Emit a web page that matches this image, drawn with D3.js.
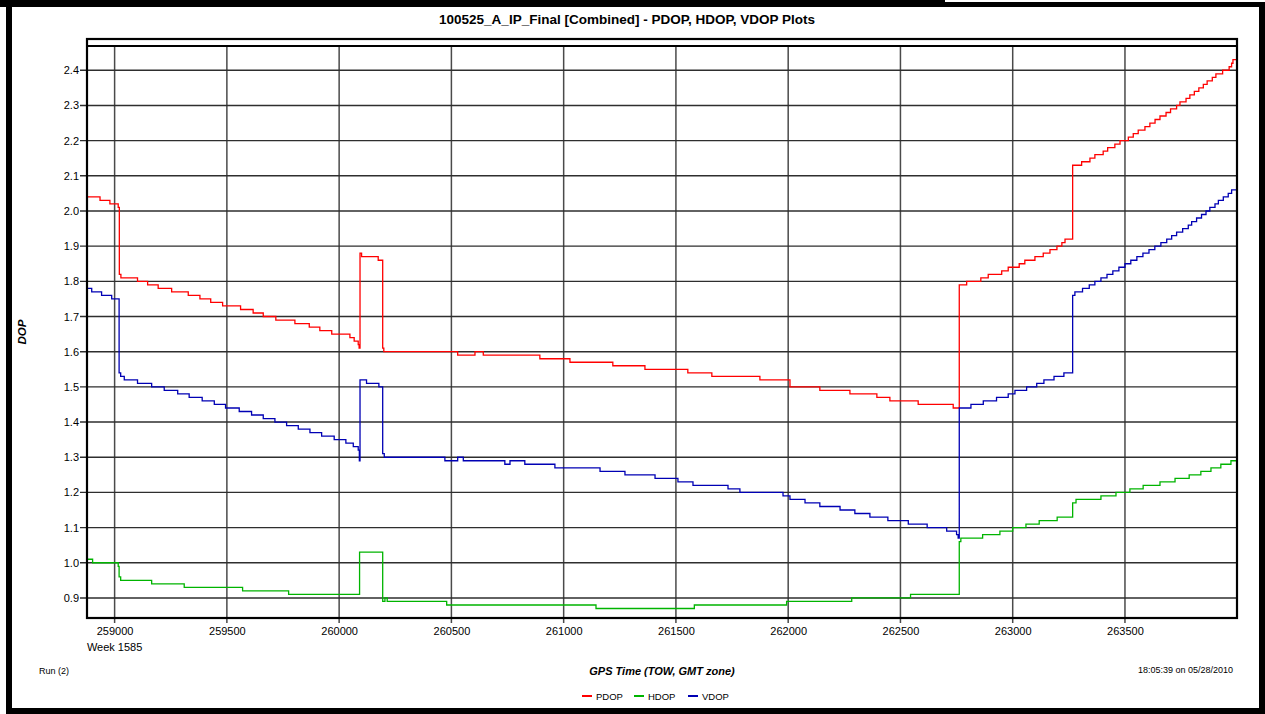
<!DOCTYPE html>
<html>
<head>
<meta charset="utf-8">
<script src="https://cdn.jsdelivr.net/npm/d3@7"></script>
<style>
  body { margin: 0; background: #fff; }
  svg { display: block; font-family: "Liberation Sans", Arial, sans-serif; }
</style>
</head>
<body>
<svg width="1265" height="714"></svg>
<script>
const titleText = "100525_A_IP_Final [Combined] - PDOP, HDOP, VDOP Plots"
const xLabel = "GPS Time (TOW, GMT zone)"
const yLabel = "DOP"
const weekLabel = "Week 1585"
const runLabel = "Run (2)"
const stampLabel = "18:05:39 on 05/28/2010"

const seriesNames = ["PDOP", "HDOP", "VDOP"]
const seriesColors = ["#ff0000", "#00b400", "#0000b4"]

const xTicks = [259000, 259500, 260000, 260500, 261000, 261500, 262000, 262500, 263000, 263500]
const yTicks = [0.9, 1.0, 1.1, 1.2, 1.3, 1.4, 1.5, 1.6, 1.7, 1.8, 1.9, 2.0, 2.1, 2.2, 2.3, 2.4]
const timeRange = [258877, 263999]
const dopRange = [0.843, 2.469]

// [time of week, value] - each value holds until the next time
const pdop = [
  [258877, 2.04], [258935, 2.03], [258979, 2.02], [259016, 2.01], [259021, 1.82], [259028, 1.81],
  [259102, 1.80], [259147, 1.79], [259194, 1.78], [259254, 1.77], [259328, 1.76], [259380, 1.75],
  [259428, 1.74], [259481, 1.73], [259561, 1.72], [259617, 1.71], [259662, 1.70], [259718, 1.69],
  [259803, 1.68], [259867, 1.67], [259914, 1.66], [259967, 1.65], [260048, 1.64], [260067, 1.63],
  [260085, 1.62], [260089, 1.61], [260093, 1.88], [260100, 1.87], [260174, 1.86], [260194, 1.61],
  [260199, 1.60], [260528, 1.59], [260605, 1.60], [260642, 1.59], [260894, 1.58], [261028, 1.57],
  [261219, 1.56], [261362, 1.55], [261553, 1.54], [261660, 1.53], [261874, 1.52], [262008, 1.50],
  [262141, 1.49], [262275, 1.48], [262395, 1.47], [262453, 1.46], [262579, 1.45], [262735, 1.44],
  [262762, 1.79], [262795, 1.80], [262858, 1.81], [262891, 1.82], [262951, 1.83], [262980, 1.84],
  [263029, 1.85], [263054, 1.86], [263099, 1.87], [263136, 1.88], [263166, 1.89], [263197, 1.90],
  [263219, 1.91], [263233, 1.92], [263267, 2.13], [263307, 2.14], [263344, 2.15], [263366, 2.16],
  [263403, 2.17], [263423, 2.18], [263455, 2.19], [263478, 2.20], [263515, 2.21], [263537, 2.22],
  [263559, 2.23], [263589, 2.24], [263611, 2.25], [263634, 2.26], [263656, 2.27], [263683, 2.28],
  [263703, 2.29], [263730, 2.30], [263745, 2.31], [263772, 2.32], [263789, 2.33], [263809, 2.34],
  [263829, 2.35], [263849, 2.36], [263866, 2.37], [263889, 2.38], [263905, 2.39], [263935, 2.40],
  [263964, 2.41], [263975, 2.42], [263981, 2.43], [263999, 2.43]
]

const hdop = [
  [258877, 1.01], [258902, 1.00], [259016, 0.99], [259020, 0.96], [259027, 0.95], [259165, 0.94],
  [259310, 0.93], [259570, 0.92], [259775, 0.91], [260091, 1.03], [260194, 0.89], [260204, 0.90],
  [260214, 0.89], [260479, 0.88], [261144, 0.87], [261582, 0.88], [261993, 0.89], [262283, 0.90],
  [262545, 0.91], [262762, 1.06], [262769, 1.07], [262866, 1.08], [262943, 1.09], [263000, 1.10],
  [263059, 1.11], [263118, 1.12], [263198, 1.13], [263267, 1.17], [263282, 1.18], [263393, 1.19],
  [263460, 1.20], [263522, 1.21], [263581, 1.22], [263656, 1.23], [263723, 1.24], [263786, 1.25],
  [263838, 1.26], [263883, 1.27], [263927, 1.28], [263972, 1.29], [263999, 1.29]
]

const vdop = [
  [258877, 1.78], [258898, 1.77], [258942, 1.76], [258987, 1.75], [259020, 1.54], [259027, 1.53],
  [259043, 1.52], [259102, 1.51], [259165, 1.50], [259221, 1.49], [259281, 1.48], [259332, 1.47],
  [259390, 1.46], [259444, 1.45], [259494, 1.44], [259555, 1.43], [259610, 1.42], [259662, 1.41],
  [259714, 1.40], [259766, 1.39], [259818, 1.38], [259870, 1.37], [259922, 1.36], [259978, 1.35],
  [260030, 1.34], [260063, 1.33], [260085, 1.32], [260090, 1.29], [260093, 1.52], [260122, 1.51],
  [260177, 1.50], [260194, 1.31], [260201, 1.30], [260471, 1.29], [260528, 1.30], [260553, 1.29],
  [260738, 1.28], [260761, 1.29], [260827, 1.28], [260961, 1.27], [261162, 1.26], [261273, 1.25],
  [261407, 1.24], [261509, 1.23], [261576, 1.22], [261732, 1.21], [261785, 1.20], [261977, 1.19],
  [262008, 1.18], [262075, 1.17], [262141, 1.16], [262231, 1.15], [262297, 1.14], [262364, 1.13],
  [262444, 1.12], [262535, 1.11], [262619, 1.10], [262706, 1.09], [262750, 1.08], [262757, 1.07],
  [262762, 1.44], [262814, 1.45], [262869, 1.46], [262928, 1.47], [262980, 1.48], [263010, 1.49],
  [263062, 1.50], [263107, 1.51], [263139, 1.52], [263184, 1.53], [263228, 1.54], [263267, 1.76],
  [263277, 1.77], [263311, 1.78], [263341, 1.79], [263366, 1.80], [263393, 1.81], [263420, 1.82],
  [263446, 1.83], [263473, 1.84], [263500, 1.85], [263526, 1.86], [263553, 1.87], [263580, 1.88],
  [263607, 1.89], [263633, 1.90], [263660, 1.91], [263686, 1.92], [263708, 1.93], [263730, 1.94],
  [263757, 1.95], [263782, 1.96], [263797, 1.97], [263819, 1.98], [263841, 1.99], [263861, 2.00],
  [263878, 2.01], [263901, 2.02], [263916, 2.03], [263938, 2.04], [263960, 2.05], [263975, 2.06],
  [263999, 2.06]
]

const svg = d3.select("svg")

// plot box
const plotLeft = 87, plotRight = 1237, plotTop = 46, plotBottom = 618

const x = d3.scaleLinear().domain(timeRange).range([plotLeft, plotRight])
const y = d3.scaleLinear().domain(dopRange).range([plotBottom, plotTop])

// window frame
svg.append("rect").attr("x", 0).attr("y", 0).attr("width", 945).attr("height", 7).attr("fill", "#000")
svg.append("rect").attr("x", 945).attr("y", 2).attr("width", 320).attr("height", 5).attr("fill", "#000")
svg.append("rect").attr("x", 6).attr("y", 0).attr("width", 6).attr("height", 714).attr("fill", "#000")
svg.append("rect").attr("x", 1259).attr("y", 2).attr("width", 6).attr("height", 712).attr("fill", "#000")
svg.append("rect").attr("x", 6).attr("y", 708).attr("width", 1259).attr("height", 6).attr("fill", "#000")

// title
svg.append("text")
  .attr("x", 627).attr("y", 24)
  .attr("text-anchor", "middle")
  .style("font-size", "13.5px").style("font-weight", "bold")
  .text(titleText)

// vertical grid
svg.append("g").selectAll("line").data(xTicks).join("line")
  .attr("x1", d => x(d)).attr("x2", d => x(d))
  .attr("y1", plotTop).attr("y2", plotBottom + 5)
  .attr("stroke", "#4a4a4a").attr("stroke-width", 1.5)

// horizontal grid
svg.append("g").selectAll("line").data(yTicks).join("line")
  .attr("x1", plotLeft - 7).attr("x2", plotRight)
  .attr("y1", d => y(d)).attr("y2", d => y(d))
  .attr("stroke", "#2e2e2e").attr("stroke-width", 1.4)

// y tick labels
const yAxis = svg.append("g")
  .attr("transform", `translate(${plotLeft},0)`)
  .call(d3.axisLeft(y).tickValues(yTicks).tickSize(7).tickPadding(1).tickFormat(d3.format(".1f")))
yAxis.select(".domain").remove()
yAxis.selectAll(".tick line").remove()
yAxis.selectAll("text").style("font-size", "11px").style("font-family", "Liberation Sans, Arial, sans-serif").attr("fill", "#000")

// x tick labels
const xAxis = svg.append("g")
  .attr("transform", `translate(0,${plotBottom})`)
  .call(d3.axisBottom(x).tickValues(xTicks).tickSize(5).tickPadding(4).tickFormat(d3.format("d")))
xAxis.select(".domain").remove()
xAxis.selectAll(".tick line").remove()
xAxis.selectAll("text").style("font-size", "11px").style("font-family", "Liberation Sans, Arial, sans-serif").attr("fill", "#000")

svg.append("text")
  .attr("x", x(xTicks[0])).attr("y", 651)
  .attr("text-anchor", "middle")
  .style("font-size", "11px")
  .text(weekLabel)

// series
svg.append("clipPath").attr("id", "clip")
  .append("rect").attr("x", plotLeft).attr("y", plotTop).attr("width", plotRight - plotLeft).attr("height", plotBottom - plotTop)

const line = d3.line()
  .x(d => x(d[0]))
  .y(d => y(d[1]))
  .curve(d3.curveStepAfter)

const allSeries = [pdop, hdop, vdop]
svg.append("g").attr("clip-path", "url(#clip)")
  .selectAll("path").data(allSeries).join("path")
  .attr("d", line)
  .attr("fill", "none")
  .attr("stroke", (d, i) => seriesColors[i])
  .attr("stroke-width", 1.3)

// plot frame
svg.append("rect")
  .attr("x", plotLeft).attr("y", 39).attr("width", plotRight - plotLeft).attr("height", plotBottom - 39)
  .attr("fill", "none").attr("stroke", "#000").attr("stroke-width", 2.2)
svg.append("line")
  .attr("x1", plotLeft).attr("x2", plotRight).attr("y1", plotTop).attr("y2", plotTop)
  .attr("stroke", "#000").attr("stroke-width", 2)

// axis titles
svg.append("text")
  .attr("transform", `translate(26,${(plotTop + plotBottom) / 2}) rotate(-90)`)
  .attr("text-anchor", "middle")
  .style("font-size", "11.5px").style("font-weight", "bold").style("font-style", "italic")
  .text(yLabel)

svg.append("text")
  .attr("x", 662).attr("y", 675)
  .attr("text-anchor", "middle")
  .style("font-size", "11px").style("font-weight", "bold").style("font-style", "italic")
  .text(xLabel)

svg.append("text")
  .attr("x", 39).attr("y", 674)
  .style("font-size", "9px")
  .text(runLabel)

svg.append("text")
  .attr("x", 1233).attr("y", 673)
  .attr("text-anchor", "end")
  .style("font-size", "9px")
  .text(stampLabel)

// legend
const legendX = [582, 634, 688]
const legend = svg.append("g").selectAll("g").data(seriesNames).join("g")
  .attr("transform", (d, i) => `translate(${legendX[i]},696)`)
legend.append("line")
  .attr("x1", 0).attr("x2", 10).attr("y1", 0).attr("y2", 0)
  .attr("stroke", (d, i) => seriesColors[i]).attr("stroke-width", 2)
legend.append("text")
  .attr("x", 14).attr("y", 3.5)
  .style("font-size", "9.5px")
  .text(d => d)
</script>
</body>
</html>
